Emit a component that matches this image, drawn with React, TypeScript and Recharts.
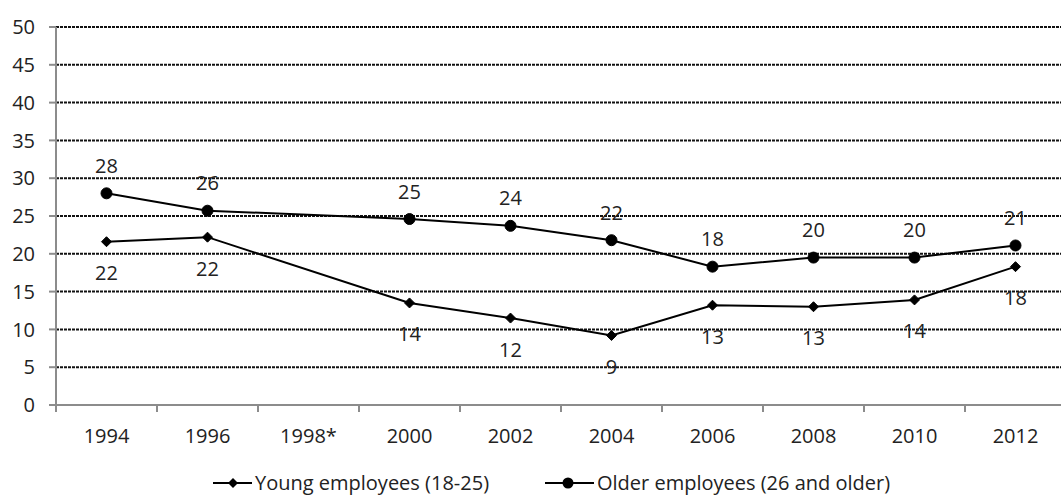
import React from 'react';
import { LineChart, Line, XAxis, YAxis, CartesianGrid, Legend } from 'recharts';

// Survey years; 1998 has no measurement
const years = ['1994', '1996', '1998*', '2000', '2002', '2004', '2006', '2008', '2010', '2012'];
const youngEmployees = [21.6, 22.2, null, 13.5, 11.5, 9.2, 13.2, 13.0, 13.9, 18.3];
const olderEmployees = [28.0, 25.7, null, 24.6, 23.7, 21.8, 18.3, 19.5, 19.5, 21.1];
const yTicks = [0, 5, 10, 15, 20, 25, 30, 35, 40, 45, 50];
const youngName = 'Young employees (18-25)';
const olderName = 'Older employees (26 and older)';

const data = years.map((year, i) => ({
  year,
  young: youngEmployees[i],
  older: olderEmployees[i],
}));

const FONT = '"Open Sans", "Noto Sans", sans-serif';
const FONT_SIZE = 20;
const TEXT = '#222';
const AXIS = '#8c8c8c';

const CHART_W = 1066;
const CHART_H = 495;
const PLOT_LEFT = 56;
const HALF_BAND = (CHART_W - PLOT_LEFT) / years.length / 2;

const Diamond = (props: any) => {
  const { cx, cy, value } = props;
  if (value == null || cx == null || cy == null) return null;
  const s = 5;
  return (
    <path
      d={`M${cx},${cy - s} L${cx + s},${cy} L${cx},${cy + s} L${cx - s},${cy} Z`}
      fill="#000"
      stroke="#000"
      strokeWidth={1}
    />
  );
};

const Circle = (props: any) => {
  const { cx, cy, value } = props;
  if (value == null || cx == null || cy == null) return null;
  return <circle cx={cx} cy={cy} r={5.5} fill="#000" stroke="#000" />;
};

const makeLabel = (offset: number) => (props: any) => {
  const { x, y, value } = props;
  if (value == null || x == null || y == null) return null;
  return (
    <text
      x={x}
      y={y + offset}
      textAnchor="middle"
      dominantBaseline="central"
      fontSize={FONT_SIZE}
      fontFamily={FONT}
      fill={TEXT}
    >
      {Math.round(value)}
    </text>
  );
};

const XTick = (props: any) => {
  const { x, y, payload } = props;
  return (
    <g>
      <line x1={x - HALF_BAND} x2={x - HALF_BAND} y1={y} y2={y + 7} stroke={AXIS} strokeWidth={2} />
      <text x={x} y={y + 38} textAnchor="middle" fontSize={FONT_SIZE} fontFamily={FONT} fill={TEXT}>
        {payload.value}
      </text>
    </g>
  );
};

const LegendContent = () => (
  <div style={{ position: 'relative', height: 30 }}>
    <svg width={1061} height={30} style={{ position: 'absolute', left: 0, top: 0 }}>
      <line x1={213} x2={252} y1={15} y2={15} stroke="#000" strokeWidth={2} />
      <path d="M233,10 L238,15 L233,20 L228,15 Z" fill="#000" />
      <text x={255} y={22} fontSize={FONT_SIZE} fontFamily={FONT} fill={TEXT}>
        {youngName}
      </text>
      <line x1={545} x2={594} y1={15} y2={15} stroke="#000" strokeWidth={2} />
      <circle cx={568} cy={15} r={5.5} fill="#000" />
      <text x={597} y={22} fontSize={FONT_SIZE} fontFamily={FONT} fill={TEXT}>
        {olderName}
      </text>
    </svg>
  </div>
);

export default function App() {
  return (
    <div
      style={{
        position: 'absolute',
        left: 0,
        top: 0,
        width: 1061,
        height: 495,
        overflow: 'hidden',
        background: '#fff',
      }}
    >
      <LineChart
        width={CHART_W}
        height={CHART_H}
        data={data}
        margin={{ top: 27, right: 0, left: 0, bottom: 20 }}
      >
        <CartesianGrid
          vertical={false}
          stroke="#111"
          strokeWidth={2}
          strokeDasharray="3 1"
        />
        <XAxis
          dataKey="year"
          scale="band"
          height={40}
          axisLine={{ stroke: AXIS, strokeWidth: 2 }}
          tickLine={false}
          tickSize={0}
          tickMargin={0}
          interval={0}
          tick={<XTick />}
        />
        <YAxis
          width={PLOT_LEFT}
          domain={[0, 50]}
          ticks={yTicks}
          interval={0}
          axisLine={{ stroke: AXIS, strokeWidth: 2 }}
          tickLine={{ stroke: AXIS, strokeWidth: 2 }}
          tickSize={7}
          tickMargin={14}
          tick={{ fontSize: FONT_SIZE, fontFamily: FONT, fill: TEXT }}
        />
        <Legend
          verticalAlign="bottom"
          height={30}
          content={<LegendContent />}
          wrapperStyle={{ position: 'absolute', left: 0, top: 468, width: 1061 }}
        />
        <Line
          type="linear"
          dataKey="young"
          name={youngName}
          stroke="#000"
          strokeWidth={2}
          connectNulls
          dot={<Diamond />}
          activeDot={false}
          label={makeLabel(31)}
          isAnimationActive={false}
        />
        <Line
          type="linear"
          dataKey="older"
          name={olderName}
          stroke="#000"
          strokeWidth={2}
          connectNulls
          dot={<Circle />}
          activeDot={false}
          label={makeLabel(-28)}
          isAnimationActive={false}
        />
      </LineChart>
    </div>
  );
}
